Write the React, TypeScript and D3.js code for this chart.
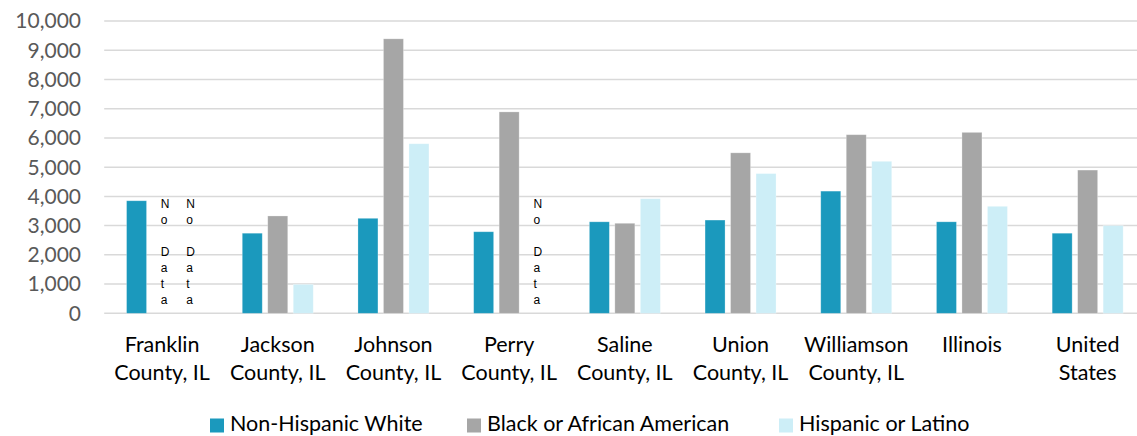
import React from "react";
import * as d3 from "d3";

const categories = [
  "Franklin County, IL",
  "Jackson County, IL",
  "Johnson County, IL",
  "Perry County, IL",
  "Saline County, IL",
  "Union County, IL",
  "Williamson County, IL",
  "Illinois",
  "United States",
];
const categoryLines = [
  ["Franklin", "County, IL"],
  ["Jackson", "County, IL"],
  ["Johnson", "County, IL"],
  ["Perry", "County, IL"],
  ["Saline", "County, IL"],
  ["Union", "County, IL"],
  ["Williamson", "County, IL"],
  ["Illinois"],
  ["United", "States"],
];
const seriesNames = ["Non-Hispanic White", "Black or African American", "Hispanic or Latino"];
const nonHispanicWhite = [3850, 2740, 3250, 2790, 3130, 3190, 4180, 3130, 2740];
const blackAfricanAmerican = [null, 3330, 9390, 6890, 3080, 5490, 6110, 6190, 4900];
const hispanicLatino = [null, 990, 5800, null, 3920, 4780, 5200, 3660, 3000];
const yTicks = [0, 1000, 2000, 3000, 4000, 5000, 6000, 7000, 8000, 9000, 10000];
const noDataLabel = "No Data";

const colors = ["#1b99bd", "#a6a6a6", "#cdeef7"];
const seriesValues = [nonHispanicWhite, blackAfricanAmerican, hispanicLatino];

const W = 1137;
const H = 436;
const left = 104.2;
const band = 115.7;
const FONT = "Lato, 'Open Sans', sans-serif";

export default function App() {
  const x0 = d3
    .scaleBand<string>()
    .domain(categories)
    .range([left, left + band * categories.length])
    .paddingInner(0)
    .paddingOuter(0);
  const x1 = d3
    .scaleBand<string>()
    .domain(seriesNames)
    .range([0, x0.bandwidth()])
    .paddingInner(0.216)
    .paddingOuter(0.877);
  const y = d3.scaleLinear().domain([0, 10000]).range([313.3, 21]);
  const fmt = d3.format(",");

  const legendPos = [
    { sq: 210, tx: 230 },
    { sq: 467, tx: 487 },
    { sq: 779, tx: 799 },
  ];

  return (
    <svg
      width={W}
      height={H}
      style={{ position: "absolute", left: 0, top: 0, background: "#fff" }}
    >
      <rect x={0} y={0} width={W} height={H} fill="#fff" />
      {yTicks.map((t) => (
        <g key={t}>
          <line x1={left} x2={W} y1={y(t)} y2={y(t)} stroke="#d9d9d9" strokeWidth={1.5} />
          <text
            x={81}
            y={y(t)}
            dy="0.35em"
            textAnchor="end"
            fontFamily={FONT}
            fontSize={21}
            fill="#595959"
          >
            {fmt(t)}
          </text>
        </g>
      ))}
      {categories.map((c, i) => (
        <g key={c} transform={`translate(${x0(c)},0)`}>
          {seriesNames.map((s, k) => {
            const v = seriesValues[k][i];
            const bx = x1(s)!;
            if (v == null) {
              const chars = noDataLabel.split("");
              return (
                <text
                  key={s}
                  fontFamily="'Liberation Sans', Arial, sans-serif"
                  fontSize={12}
                  fill="#000"
                >
                  {chars.map((ch, j) => (
                    <tspan key={j} x={bx + x1.bandwidth() / 2 - 1.2} y={208 + j * 16}>
                      {ch === " " ? "\u00a0" : ch}
                    </tspan>
                  ))}
                </text>
              );
            }
            return (
              <rect
                key={s}
                x={bx}
                y={y(v)}
                width={x1.bandwidth()}
                height={y(0) - y(v)}
                fill={colors[k]}
                stroke="#ffffff"
                strokeOpacity={0.35}
                strokeWidth={0.75}
              />
            );
          })}
          {categoryLines[i].map((ln, j) => (
            <text
              key={j}
              x={x0.bandwidth() / 2}
              y={351.7 + j * 28}
              textAnchor="middle"
              fontFamily={FONT}
              fontSize={21.5}
              fill="#000"
            >
              {ln}
            </text>
          ))}
        </g>
      ))}
      {seriesNames.map((s, k) => (
        <g key={s}>
          <rect x={legendPos[k].sq} y={418.5} width={14} height={14} fill={colors[k]} />
          <text
            x={legendPos[k].tx}
            y={431.3}
            fontFamily={FONT}
            fontSize={21.5}
            fill="#000"
          >
            {s}
          </text>
        </g>
      ))}
    </svg>
  );
}
